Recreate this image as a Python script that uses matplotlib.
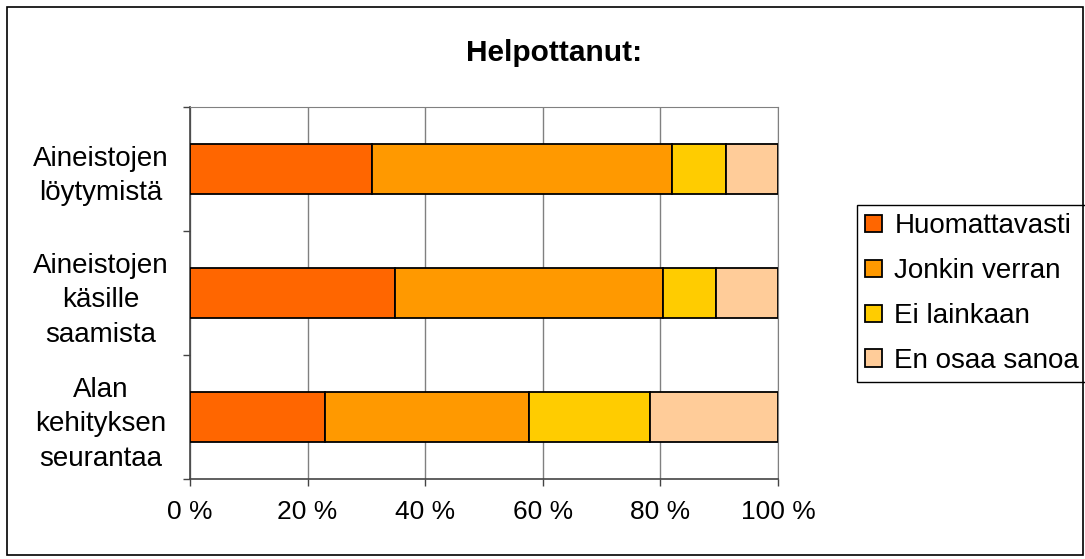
import matplotlib
matplotlib.use("Agg")
import matplotlib.pyplot as plt
from matplotlib.patches import Rectangle
from matplotlib.ticker import FuncFormatter

plt.rcParams['font.family'] = ['Liberation Sans', 'DejaVu Sans']

categories = ["Aineistojen\nlöytymistä", "Aineistojen\nkäsille\nsaamista", "Alan\nkehityksen\nseurantaa"]
series_names = ["Huomattavasti", "Jonkin verran", "Ei lainkaan", "En osaa sanoa"]
huomattavasti = [31.0, 34.8, 22.9]
jonkin_verran = [51.0, 45.7, 34.8]
ei_lainkaan = [9.2, 9.0, 20.5]
en_osaa = [8.8, 10.5, 21.8]
colors = ["#FF6600", "#FF9900", "#FFCC00", "#FFCC99"]
xticks = [0, 20, 40, 60, 80, 100]

fig = plt.figure(figsize=(10.85, 5.59), dpi=100)
ax = fig.add_axes([190/1085, 1-479/559, (778-190)/1085, (479-107)/559])

series = [huomattavasti, jonkin_verran, ei_lainkaan, en_osaa]
ypos = list(range(len(categories)))
left = [0.0]*len(categories)
for name, vals, c in zip(series_names, series, colors):
    ax.barh(ypos, vals, left=left, height=0.4, color=c, edgecolor='black',
            linewidth=1.3, label=name, zorder=3)
    left = [l + v for l, v in zip(left, vals)]

ax.set_xlim(0, 100)
ax.set_ylim(2.5, -0.5)
ax.set_xticks(xticks)
ax.xaxis.set_major_formatter(FuncFormatter(lambda v, p: f"{int(v)} %"))
ax.set_yticks([-0.5, 0.5, 1.5, 2.5])
ax.set_yticklabels([])
ax.set_yticks(ypos, minor=True)
ax.set_yticklabels(categories, minor=True, ha='center', multialignment='center',
                   linespacing=1.42, fontsize=20)
ax.tick_params(axis='y', which='minor', length=0, pad=64)
ax.tick_params(axis='y', which='major', length=5, width=1, color='#444444')
ax.tick_params(axis='x', length=5, width=1, color='#444444', labelsize=19, pad=10)
ax.grid(axis='x', color='#808080', linewidth=1, zorder=0)
for s in ['top', 'right']:
    ax.spines[s].set_color('#808080')
for s in ['left', 'bottom']:
    ax.spines[s].set_color('#444444')
    ax.spines[s].set_linewidth(1.2)

fig.text(554/1085, 1-53/559, "Helpottanut:", ha='center', va='center',
         fontsize=21.5, fontweight='bold')

leg = ax.legend(loc='upper left', bbox_to_anchor=(857/1085, 1-205/559),
                bbox_transform=fig.transFigure, borderaxespad=0, fancybox=False,
                edgecolor='black', fontsize=20, handlelength=0.6, handleheight=0.6,
                handletextpad=0.45, labelspacing=0.68, borderpad=0.3, framealpha=1)
leg.get_frame().set_linewidth(1)

fig.patches.append(Rectangle((7/1085, 4/559), 1-9/1085, 1-11/559, transform=fig.transFigure,
                             fill=False, edgecolor='black', linewidth=1.2))

fig.savefig("out.png", dpi=100)
